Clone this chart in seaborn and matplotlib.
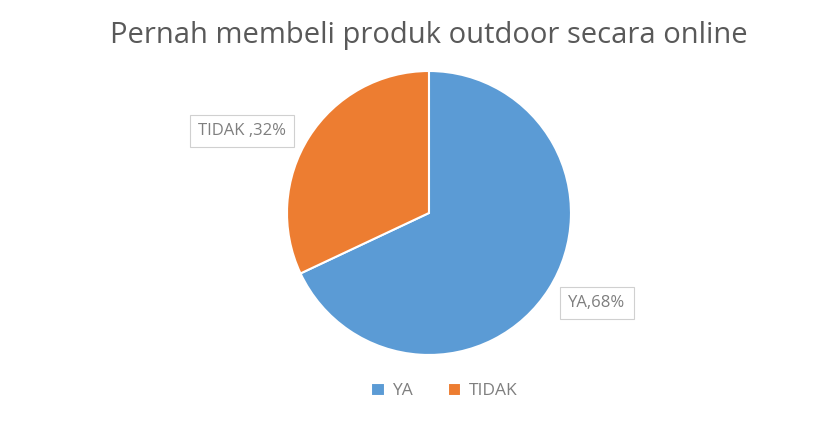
import matplotlib
matplotlib.use("Agg")
import matplotlib.pyplot as plt
import seaborn as sns

categories = ["YA", "TIDAK"]
values = [68, 32]
label_texts = ["YA,68%", "TIDAK ,32%"]
title = "Pernah membeli produk outdoor secara online"

sns.set_theme(style="white")
plt.rcParams['font.family'] = ['Open Sans', 'DejaVu Sans']
colors = ["#5B9BD5", "#ED7D31"]

fig = plt.figure(figsize=(8.35, 4.21), dpi=100)
ax = fig.add_axes([0.3437, 0.1568, 0.3401, 0.6746])
wedges, _ = ax.pie(values, colors=colors, startangle=90, counterclock=False,
                   wedgeprops=dict(edgecolor="white", linewidth=1.5))
ax.set_xlim(-1, 1)
ax.set_ylim(-1, 1)
ax.set_aspect("equal")
ax.axis("off")

label_pos = [(1.183, -0.634), (-1.317, 0.577)]
for txt, (x, y) in zip(label_texts, label_pos):
    ax.text(x, y, txt, ha="center", va="center", fontsize=12, color="#7F7F7F",
            clip_on=False,
            bbox=dict(boxstyle="square,pad=0.5", fc="white", ec="#D0D0D0", lw=0.8))

fig.text(0.514, 0.915, title, ha="center", va="center", fontsize=21, color="#595959")

leg = fig.legend(wedges, categories, loc="center", bbox_to_anchor=(0.532, 0.071),
                 ncol=2, frameon=False, fontsize=12.5, handlelength=0.8, handleheight=0.8,
                 columnspacing=2.0, handletextpad=0.4)
for t in leg.get_texts():
    t.set_color("#7F7F7F")

fig.savefig("out.png", dpi=100, facecolor="white")
